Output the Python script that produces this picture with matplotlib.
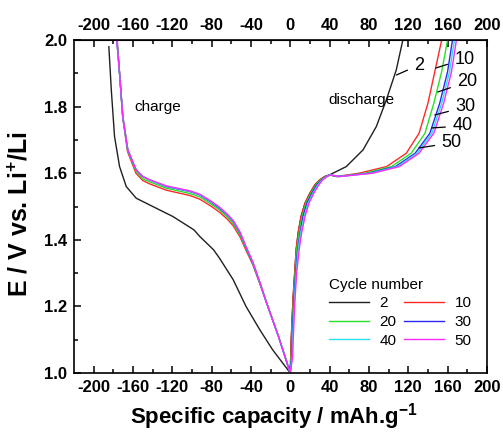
import matplotlib
matplotlib.use("Agg")
import matplotlib.pyplot as plt

plt.rcParams.update({
    'font.family': ['Liberation Sans', 'DejaVu Sans'],
    'mathtext.fontset': 'custom',
    'mathtext.rm': 'Liberation Sans',
    'mathtext.bf': 'Liberation Sans:bold',
    'mathtext.default': 'bf',
    'axes.unicode_minus': False,
})

cycles = ['2', '10', '20', '30', '40', '50']
colors = ['#202020', '#ff2828', '#28e028', '#2828f0', '#28e0f0', '#ff28ff']

# charge branch (negative capacity), from 2.0 V down to 1.0 V
chg_cap = {
    '2':  [-184.5, -182, -178.7, -173.6, -166.8, -156.7, -139.8, -119.4, -98, -92, -78, -72,
           -58, -45, -31, -18, -9, 0],
    '10': [-176, -173.6, -170.5, -165.5, -157, -150, -143, -126, -102, -92, -80, -72, -64,
           -58, -51, -44, -38, -31, -24, -18, -12, -6, 0],
    '20': [-176.2, -173.6, -170.4, -165.4, -156.8, -150, -143, -126, -102, -92, -80, -72, -64,
           -58, -51, -44, -38, -31, -24, -18, -12, -6, 0],
    '30': [-176.4, -173.6, -170.3, -165.2, -156.7, -150, -143, -126, -102, -92, -80, -72, -64,
           -58, -51, -44, -38, -31, -24, -18, -12, -6, 0],
    '40': [-176.4, -173.6, -170.3, -165.2, -156.7, -150, -143, -126, -102, -92, -80, -72, -64,
           -58, -51, -44, -38, -31, -24, -18, -12, -6, 0],
    '50': [-176.4, -173.6, -170.3, -165.2, -156.7, -150, -143, -126, -102, -92, -80, -72, -64,
           -58, -51, -44, -38, -31, -24, -18, -12, -6, 0],
}
chg_v = {
    '2':  [1.98, 1.85, 1.71, 1.62, 1.56, 1.525, 1.50, 1.47, 1.43, 1.41, 1.37, 1.345,
           1.28, 1.20, 1.13, 1.07, 1.035, 1.0],
    '10': [2.0, 1.90, 1.77, 1.665, 1.60, 1.578, 1.568, 1.549, 1.533, 1.522, 1.50, 1.483, 1.462,
           1.442, 1.408, 1.362, 1.325, 1.268, 1.21, 1.16, 1.11, 1.055, 1.0],
    '20': [2.0, 1.90, 1.77, 1.668, 1.605, 1.583, 1.574, 1.555, 1.539, 1.529, 1.506, 1.49, 1.468,
           1.448, 1.414, 1.366, 1.328, 1.27, 1.21, 1.16, 1.11, 1.055, 1.0],
    '30': [2.0, 1.90, 1.77, 1.67, 1.61, 1.59, 1.58, 1.56, 1.545, 1.535, 1.512, 1.495, 1.474,
           1.455, 1.42, 1.37, 1.33, 1.272, 1.21, 1.16, 1.11, 1.055, 1.0],
    '40': [2.0, 1.90, 1.77, 1.67, 1.61, 1.59, 1.58, 1.561, 1.546, 1.536, 1.514, 1.497, 1.476,
           1.457, 1.422, 1.372, 1.332, 1.273, 1.21, 1.16, 1.11, 1.055, 1.0],
    '50': [2.0, 1.90, 1.77, 1.67, 1.61, 1.59, 1.58, 1.562, 1.547, 1.537, 1.515, 1.498, 1.477,
           1.458, 1.423, 1.373, 1.333, 1.274, 1.21, 1.16, 1.11, 1.055, 1.0],
}

# discharge branch (positive capacity), from 1.0 V up to 2.0 V
dis_cap = {
    '2':  [0, 0.5, 1, 2, 3, 4.5, 6, 8, 11, 15, 20, 25, 30, 35, 40,
           57, 74, 87.5, 97.7, 107.8, 114.5],
    '10': [0, 0.5, 1, 2, 3, 4.5, 6, 8, 11, 15, 20, 25, 30, 35, 40,
           47, 70, 98, 118, 131, 140, 147, 154],
    '20': [0, 1, 1.5, 2.5, 3.5, 5, 6.5, 9, 12, 16, 21, 26, 31, 36, 40,
           48, 76, 103, 123, 137, 146, 154, 160],
    '30': [0, 1.5, 2, 3, 4, 5.5, 7.5, 10, 13, 17, 22, 27, 32, 36.5, 40,
           49, 80, 107, 127, 142, 152, 160, 165],
    '40': [0, 2, 2.5, 3.5, 4.5, 6, 8, 10.5, 14, 18, 23, 28, 32.5, 37, 40.5,
           50, 82, 109, 129, 144, 154, 162, 167],
    '50': [0, 2.5, 3, 4, 5, 6.5, 9, 11.5, 15, 19, 24, 29, 33, 37.5, 41,
           50, 84, 111, 131, 146, 156, 164, 169],
}
low_v = [1.0, 1.05, 1.10, 1.17, 1.23, 1.30, 1.37, 1.42, 1.47, 1.51, 1.54, 1.565, 1.58, 1.59, 1.595]
dis_v = {
    '2':  low_v + [1.62, 1.67, 1.74, 1.82, 1.91, 2.0],
    '10': low_v + [1.59, 1.60, 1.62, 1.66, 1.72, 1.81, 1.905, 2.0],
    '20': low_v + [1.59, 1.60, 1.62, 1.66, 1.72, 1.81, 1.905, 2.0],
    '30': low_v + [1.59, 1.60, 1.62, 1.66, 1.72, 1.81, 1.905, 2.0],
    '40': low_v + [1.59, 1.60, 1.62, 1.66, 1.72, 1.81, 1.905, 2.0],
    '50': low_v + [1.59, 1.60, 1.62, 1.66, 1.72, 1.81, 1.905, 2.0],
}

# curve labels: (text pos, point on curve)
ann = {
    '2':  ((131, 1.925), (108, 1.895)),
    '10': ((177, 1.943), (148, 1.916)),
    '20': ((180, 1.874), (150, 1.844)),
    '30': ((178, 1.799), (147, 1.775)),
    '40': ((175, 1.742), (144, 1.736)),
    '50': ((164, 1.691), (131, 1.676)),
}

fig = plt.figure(figsize=(5.03, 4.32), dpi=100)
ax = fig.add_axes([0.147, 0.1366, 0.821, 0.7707])

handles = {}
for c, col in zip(cycles, colors):
    x = chg_cap[c] + dis_cap[c]
    y = chg_v[c] + dis_v[c]
    h, = ax.plot(x, y, color=col, lw=1.0, label=c)
    handles[c] = h

for c in cycles:
    (tx, ty), (px, py) = ann[c]
    ax.annotate(c, xy=(px, py), xytext=(tx, ty), fontsize=13, ha='center', va='center',
                arrowprops=dict(arrowstyle='-', lw=0.9, color='black', shrinkA=3, shrinkB=0))

ax.text(-135, 1.80, 'charge', fontsize=11, ha='center', va='center')
ax.text(72, 1.82, 'discharge', fontsize=11, ha='center', va='center')

ax.set_xlim(-220, 200)
ax.set_ylim(1.0, 2.0)
ticks = [-200, -160, -120, -80, -40, 0, 40, 80, 120, 160, 200]
ax.set_xticks(ticks)
ax.set_xticklabels([str(t) for t in ticks], fontweight='bold')
ax.set_xticks(range(-200, 201, 20), minor=True)
yt = [1.0, 1.2, 1.4, 1.6, 1.8, 2.0]
ax.set_yticks(yt)
ax.set_yticklabels(['%.1f' % v for v in yt], fontweight='bold')
ax.set_yticks([1.1, 1.3, 1.5, 1.7, 1.9], minor=True)
ax.tick_params(which='both', direction='in', labelsize=12, width=1.1, top=True)
ax.tick_params(which='major', length=5)
ax.tick_params(which='minor', length=3)
ax.tick_params(axis='x', pad=5)
ax.tick_params(axis='y', pad=5)

top = ax.secondary_xaxis('top')
top.set_xticks(ticks)
top.set_xticklabels([str(t) for t in ticks], fontweight='bold')
top.tick_params(direction='in', length=0, labelsize=12, pad=5)

for s in ax.spines.values():
    s.set_linewidth(1.2)

ax.set_xlabel('Specific capacity / mAh.g$^{-1}$', fontsize=16, fontweight='bold')
ax.set_ylabel('E / V vs. Li$^{+}$/Li', fontsize=18, fontweight='bold')
ax.xaxis.set_label_coords(0.484, -0.085)
ax.yaxis.set_label_coords(-0.10, 0.476)

order = ['2', '20', '40', '10', '30', '50']
ax.legend([handles[c] for c in order], order, ncol=2, frameon=False,
          title='Cycle number', title_fontsize=11, fontsize=11, alignment='left',
          loc='lower left', bbox_to_anchor=(0.585, 0.035), handlelength=2.6,
          handletextpad=0.7, columnspacing=0.5, labelspacing=0.3)

fig.savefig('out.png', dpi=100)
